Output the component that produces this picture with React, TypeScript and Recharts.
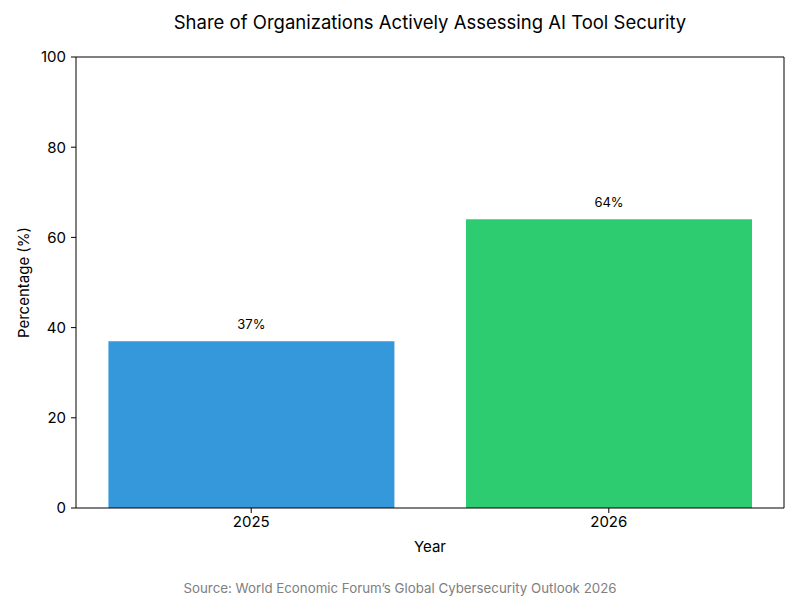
import React from 'react';
import { BarChart, Bar, XAxis, YAxis, Cell, LabelList, ReferenceLine } from 'recharts';

const years = ['2025', '2026'];
const shares = [37, 64];
const barColors = ['#3498db', '#2ecc71'];
const yTicks = [0, 20, 40, 60, 80, 100];

const data = years.map((y, i) => ({ x: i, year: y, value: shares[i] }));

const FONT = 'Inter, "Noto Sans", sans-serif';

export default function App() {
  return (
    <div style={{ position: 'absolute', left: 0, top: 0, width: 800, height: 600, background: '#fff', fontFamily: FONT }}>
      <div style={{ position: 'absolute', top: 11, left: 76, width: 708, textAlign: 'center', fontSize: 18.5, color: '#000', whiteSpace: 'nowrap' }}>
        Share of Organizations Actively Assessing AI Tool Security
      </div>
      <BarChart width={800} height={600} data={data} margin={{ top: 57, right: 16, left: 16, bottom: 42 }}>
        <XAxis
          dataKey="x"
          type="number"
          domain={[-0.49, 1.49]}
          ticks={[0, 1]}
          tickFormatter={(v: number) => years[v]}
          allowDataOverflow
          height={50}
          tickSize={5}
          tickMargin={3}
          axisLine={{ stroke: '#000', strokeWidth: 1 }}
          tickLine={{ stroke: '#000' }}
          tick={{ fill: '#000', fontSize: 15, fontFamily: FONT }}
          label={{ value: 'Year', position: 'insideBottom', offset: 6, fill: '#000', fontSize: 15, fontFamily: FONT }}
        />
        <YAxis
          domain={[0, 100]}
          ticks={yTicks}
          width={60}
          tickSize={5}
          tickMargin={5}
          axisLine={{ stroke: '#000', strokeWidth: 1 }}
          tickLine={{ stroke: '#000' }}
          tick={{ fill: '#000', fontSize: 15, fontFamily: FONT }}
          label={{ value: 'Percentage (%)', angle: -90, position: 'insideLeft', offset: 0, dx: 8, fill: '#000', fontSize: 15, fontFamily: FONT, style: { textAnchor: 'middle' } }}
        />
        <ReferenceLine y={100} stroke="#000" strokeWidth={1} ifOverflow="extendDomain" />
        <ReferenceLine x={1.49} stroke="#000" strokeWidth={1} ifOverflow="extendDomain" />
        <Bar dataKey="value" barSize={286} isAnimationActive={false}>
          {data.map((d, i) => (
            <Cell key={d.year} fill={barColors[i]} />
          ))}
          <LabelList dataKey="value" position="top" offset={12} formatter={(v: number) => `${v}%`} fill="#000" fontSize={13} fontFamily={FONT} />
        </Bar>
      </BarChart>
      <div style={{ position: 'absolute', top: 580, left: 0, width: 800, textAlign: 'center', fontSize: 13.3, color: '#808080', whiteSpace: 'nowrap' }}>
        Source: World Economic Forum’s Global Cybersecurity Outlook 2026
      </div>
    </div>
  );
}
